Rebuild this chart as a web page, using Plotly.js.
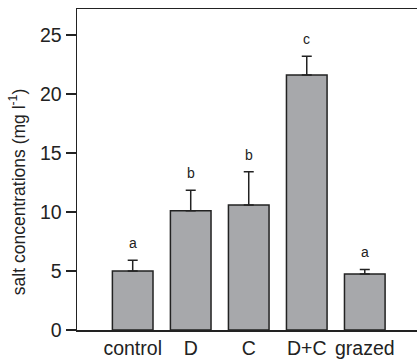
<!DOCTYPE html>
<html>
<head>
<meta charset="utf-8">
<script src="https://cdn.plot.ly/plotly-3.0.1.min.js"></script>
<style>html,body{margin:0;padding:0;background:#fff;}#chart{width:417px;height:361px;}</style>
</head>
<body>
<div id="chart"></div>
<script>
var categories = ["control", "D", "C", "D+C", "grazed"];
var means = [5.0, 10.1, 10.6, 21.6, 4.75];
var errors = [0.9, 1.75, 2.8, 1.6, 0.38];
var letters = ["a", "b", "b", "c", "a"];
var yTicks = [0, 5, 10, 15, 20, 25];
var yTitle = "salt concentrations (mg l<sup>-1</sup>)";

var FONT = "Liberation Sans, Arial, Helvetica, sans-serif";

var trace = {
  type: "bar",
  x: categories.map(function(c, i){ return i; }),
  y: means,
  marker: {color: "#a7a8ab", line: {color: "#222", width: 1.5}},
  error_y: {type: "data", array: errors, arrayminus: errors.map(function(){return 0;}), symmetric: false, color: "#222", thickness: 1.5, width: 5},
  hoverinfo: "none"
};

var annotations = letters.map(function(l, i){
  return {x: i, y: means[i] + errors[i], xref: "x", yref: "y", text: l, showarrow: false,
          yanchor: "middle", yshift: 17, font: {family: FONT, size: 14, color: "#222"}};
});
annotations.push({
  xref: "paper", yref: "paper", x: -0.176, y: 0.43, text: yTitle, textangle: -90,
  showarrow: false, xanchor: "center", yanchor: "middle",
  font: {family: FONT, size: 17.5, color: "#222"}
});

var layout = {
  width: 417, height: 361,
  margin: {l: 77, r: 0, t: 9, b: 31, pad: 0},
  paper_bgcolor: "#fff", plot_bgcolor: "#fff",
  showlegend: false,
  bargap: 0.3,
  font: {family: FONT, color: "#222"},
  xaxis: {
    range: [-0.96, 4.9],
    tickmode: "array", tickvals: categories.map(function(c, i){ return i; }), ticktext: categories,
    ticks: "", showgrid: false, zeroline: false,
    showline: true, linecolor: "#222", linewidth: 1.5, mirror: true,
    tickfont: {family: FONT, size: 19.5, color: "#222"}
  },
  yaxis: {
    range: [0, 27.2],
    tickmode: "array", tickvals: yTicks,
    ticks: "outside", ticklen: 10, tickwidth: 1.5, tickcolor: "#222",
    showgrid: false, zeroline: false,
    showline: true, linecolor: "#222", linewidth: 1.5,
    tickfont: {family: FONT, size: 19.5, color: "#222"}
  },
  annotations: annotations
};

Plotly.newPlot("chart", [trace], layout, {staticPlot: true, displayModeBar: false});
</script>
</body>
</html>
